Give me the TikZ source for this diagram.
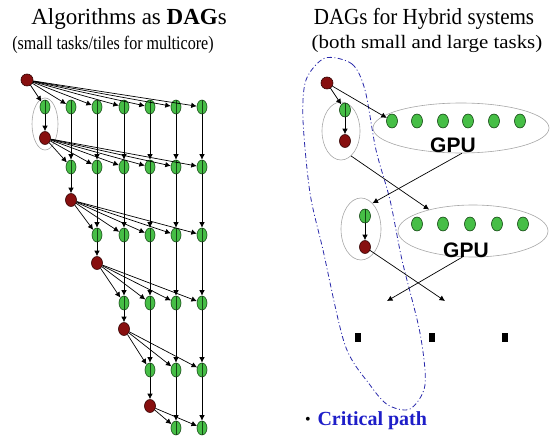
\documentclass[tikz,border=0pt]{standalone}
\usepackage{fontspec}
\setmainfont{Liberation Serif}
\newfontfamily\gpufont{Liberation Sans}
\usetikzlibrary{shapes.geometric,arrows.meta}
\definecolor{gfill}{RGB}{70,190,70}
\definecolor{gdraw}{RGB}{20,70,20}
\definecolor{rfill}{RGB}{135,15,15}
\definecolor{rdraw}{RGB}{50,0,0}
\definecolor{cpblue}{RGB}{40,40,170}
\definecolor{cptext}{RGB}{30,30,200}
\tikzset{
 gnode/.style={ellipse,fill=gfill,draw=gdraw,line width=0.6pt,minimum width=10pt,minimum height=14pt,inner sep=0pt},
 gline/.style={gnode,path picture={\draw[gdraw,line width=0.6pt] (path picture bounding box.north) -- (path picture bounding box.south);}},
 rnode/.style={ellipse,fill=rfill,draw=rdraw,line width=0.6pt,minimum width=11pt,minimum height=13pt,inner sep=0pt},
 edge/.style={draw=black,line width=0.7pt,-{Latex[length=5.5pt,width=5.5pt]}},
 grayell/.style={ellipse,draw=gray!70,line width=0.6pt,inner sep=0pt},
 gpu/.style={font=\gpufont\bfseries\fontsize{21}{21}\selectfont},
 sq/.style={fill=black,minimum width=6pt,minimum height=9pt,inner sep=0pt},
 cpline/.style={draw=cpblue,line width=0.8pt,dash pattern=on 5pt off 2.5pt on 1pt off 2.5pt},
 title/.style={anchor=base,font=\fontsize{23}{23}\selectfont},
 subtitle/.style={anchor=base,font=\fontsize{19}{19}\selectfont}
}
\begin{document}
\begin{tikzpicture}[x=1pt,y=-1pt]
\useasboundingbox (0,0) rectangle (550,436);
% titles
\node[title] (h1) at (129,25) {Algorithms as \textbf{DAG}s};
\node[subtitle] (h2) at (113,50) {\scalebox{0.846}[1]{(small tasks/tiles for multicore)}};
\node[title] (h3) at (424,25) {\scalebox{0.915}[1]{DAGs for Hybrid systems}};
\node[subtitle] (h4) at (427,49) {\scalebox{1.1}[1]{(both small and large tasks)}};
% left DAG
\node[grayell,minimum width=26pt,minimum height=52pt] (c1) at (45,124) {};
\foreach \k/\y in {1/107,2/167,3/235,4/303,5/370,6/428}{
  \foreach \j/\x in {1/45,2/71,3/97,4/124,5/150,6/176,7/202}{
    \ifnum\j<\k\relax\else \node[gline] (g-\k-\j) at (\x,\y) {};\fi
  }
}
\node[rnode,minimum width=12pt,minimum height=12pt] (r-0) at (27,80) {};
\foreach \k/\x/\y in {1/45/138,2/71/200,3/97/263,4/124/329,5/150/406}
  \node[rnode] (r-\k) at (\x,\y) {};
\foreach \j in {1,...,7} \draw[edge] (r-0) -- (g-1-\j);
\foreach \k in {1,...,5}{
  \draw[edge] (g-\k-\k) -- (r-\k);
  \pgfmathtruncatemacro\n{\k+1}
  \foreach \j in {\n,...,7}{
    \draw[edge] (r-\k) -- (g-\n-\j);
    \draw[edge] (g-\k-\j) -- (g-\n-\j);
  }
}
% right side
\draw[cpline] plot[smooth cycle] coordinates {(325,58) (352,64) (365,90) (376,150) (390,200) (402,260) (420,333) (425,385) (410,409) (388,405) (370,385) (345,345) (323,250) (310,193) (303,120) (306,80)};
\node[grayell,minimum width=38pt,minimum height=58pt] (E1) at (341,131) {};
\node[rnode,minimum width=12pt,minimum height=12pt] (Rr0) at (327,83) {};
\node[gline,minimum width=11pt] (Rg1) at (345,110) {};
\node[rnode] (Rr1) at (345,141) {};
\node[grayell,minimum width=176pt,minimum height=50pt] (GPU1) at (461,128) {};
\foreach \i/\x in {1/392,2/417,3/443,4/468,5/494,6/520}
  \node[gnode,minimum width=11pt] (ga-\i) at (\x,121) {};
\node[gpu] (t1) at (453,145) {GPU};
\node[grayell,minimum width=40pt,minimum height=62pt] (E2) at (361,229) {};
\node[gline,minimum width=11pt] (Rg2) at (365,216) {};
\node[rnode] (Rr2) at (365,247) {};
\node[grayell,minimum width=150pt,minimum height=52pt] (GPU2) at (473,231) {};
\foreach \i/\x in {1/417,2/443,3/470,4/497,5/523}
  \node[gnode,minimum width=11pt] (gb-\i) at (\x,224) {};
\node[gpu] (t2) at (466,250) {GPU};
\draw[edge] (Rr0) -- (Rg1);
\draw[edge] (Rr0) -- (ga-1);
\draw[edge] (Rg1) -- (Rr1);
\draw[edge] (E1.-68) -- (GPU2.154);
\draw[edge] (GPU1.-88) -- (E2.66);
\draw[edge] (Rg2) -- (Rr2);
\coordinate (f1) at (445,301);
\coordinate (f2) at (387,301);
\draw[edge] (Rr2) -- (f1);
\draw[edge] (GPU2.-112) -- (f2);
\node[sq] (s1) at (358,337) {};
\node[sq] (s2) at (432,337) {};
\node[sq] (s3) at (505,337) {};
\node[font=\fontsize{16}{16}\selectfont] (bul) at (308,421) {\textbullet};
\node[anchor=west,text=cptext,font=\bfseries\fontsize{20}{20}\selectfont] (cp) at (314,421) {Critical path};
\end{tikzpicture}
\end{document}
